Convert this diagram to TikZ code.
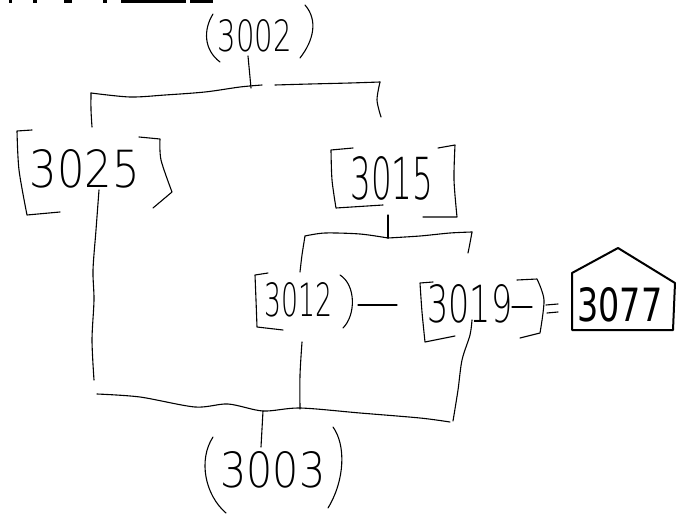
\documentclass[tikz,border=0pt]{standalone}
\usepackage{graphicx}
\usepackage{fontspec}
\setmainfont{DejaVu Sans ExtraLight}
\newfontfamily\boldhand{DejaVu Sans}
\tikzset{
  pen/.style={line width=1.1pt, line cap=round, line join=round},
  heavypen/.style={line width=2pt, line cap=round, line join=round},
  lbl/.style={inner sep=0pt, outer sep=0pt},
  scribble/.style={line width=3.5pt},
}
\newcommand{\hw}[3]{\resizebox{#1pt}{#2pt}{#3}}
\begin{document}
\begin{tikzpicture}[x=1pt,y=-1pt]
\useasboundingbox (0,0) rectangle (683,516);
% cropped heading at the top edge
\foreach \a/\b in {9/12, 33/37, 64/72, 103/107, 121/186, 190/213}
  \draw[scribble] (\a,1) -- (\b,1);

% (3002)
\node[lbl] (n3002) at (255,36) {\hw{74}{32}{3002}};
\draw[pen] (213,14) .. controls (203,30) and (204,50) .. (220,62);
\draw[pen] (305,5) .. controls (318,20) and (314,40) .. (300,58);
\coordinate (p3002) at (248,56);
\coordinate (jtop) at (251,88);
\draw[pen] (p3002) -- (jtop);

% top bracket
\draw[pen] plot[smooth] coordinates {(91,93) (130,97) (165,95) (205,92) (240,87) (262,85)};
\draw[pen] plot[smooth] coordinates {(275,85) (310,84) (350,83) (380,82)};
\draw[pen] plot[smooth] coordinates {(380,82) (377,100) (381,117)};
\draw[pen] plot[smooth] coordinates {(91,93) (91,110) (92,127)};

% [3025]
\node[lbl] (n3025) at (85,169) {\hw{110}{38}{3025}};
\draw[pen] (32,130) -- (17,131) plot[smooth] coordinates {(17,131) (19,170) (27,215)} -- (60,212);
\draw[pen] (139,137) -- (160,139) plot[smooth] coordinates {(160,139) (161,160) (172,192)} -- (153,208);

% long left vertical
\coordinate (l3025) at (99,190);
\draw[pen] plot[smooth] coordinates {(l3025) (96,230) (93,270) (94,300) (92,340) (94,380)};

% bottom bracket
\coordinate (jbot) at (263,411);
\draw[pen] plot[smooth] coordinates {(97,394) (140,397) (195,407) (228,404) (jbot) (300,408) (360,413) (420,418) (450,422)};
\draw[pen] plot[smooth] coordinates {(453,421) (458,390) (462,360) (470,335) (472,320)};
\draw[pen] plot[smooth] coordinates {(302,342) (300,375) (300,409)};

% (3003)
\node[lbl] (n3003) at (273,470) {\hw{105}{36}{3003}};
\coordinate (p3003) at (261,447);
\draw[pen] (jbot) -- (p3003);
\draw[pen] (213,437) .. controls (198,460) and (205,495) .. (226,513);
\draw[pen] (333,427) .. controls (346,445) and (345,480) .. (328,508);

% [3015]
\node[lbl] (n3015) at (392,178) {\hw{83}{43}{3015}};
\draw[pen] (353,148) -- (331,150) plot[smooth] coordinates {(331,150) (332,180) (336,208)} -- (383,205);
\draw[pen] (438,148) -- (455,145) plot[smooth] coordinates {(455,145) (454,180) (457,217)} -- (423,217);
\coordinate (b3015) at (388,215);
\coordinate (jmid) at (388,238);
\draw[pen] (b3015) -- (jmid);

% sub-bracket
\draw[pen] plot[smooth] coordinates {(305,236) (325,233) (360,234) (jmid)};
\draw[pen] plot[smooth] coordinates {(jmid) (420,236) (450,233) (472,232)};
\draw[pen] plot[smooth] coordinates {(305,236) (302,255) (300,272)};
\draw[pen] plot[smooth] coordinates {(472,232) (470,243) (468,253)};

% [3012)
\node[lbl] (n3012) at (299,300) {\hw{68}{34}{3012}};
\draw[pen] (268,273) -- (255,275) plot[smooth] coordinates {(255,275) (256,300) (257,327)} -- (283,330);
\draw[pen] (340,275) .. controls (356,285) and (356,315) .. (343,328);
\coordinate (r3012) at (358,305);
\coordinate (l3019) at (397,305);
\draw[pen] (r3012) -- (l3019);

% [3019]
\node[lbl] (n3019) at (470,304) {\hw{85}{38}{3019}};
\draw[pen] (433,282) -- (420,283) plot[smooth] coordinates {(420,283) (422,312) (425,342)} -- (455,336);
\draw[pen] (517,280) -- (537,279) plot[smooth] coordinates {(537,279) (544,300) (540,333)} -- (520,338);
\draw[pen] (512,307) -- (532,307);
% =
\draw[pen] (546,305) -- (558,304);
\draw[pen] (547,313) -- (558,312);

% house 3077
\draw[heavypen] (572,330) -- (572,273) -- (618,248) -- (675,283) -- (673,330) -- cycle;
\node[lbl] (n3077) at (620,305) {\hw{85}{34}{\boldhand 3077}};
\end{tikzpicture}
\end{document}
